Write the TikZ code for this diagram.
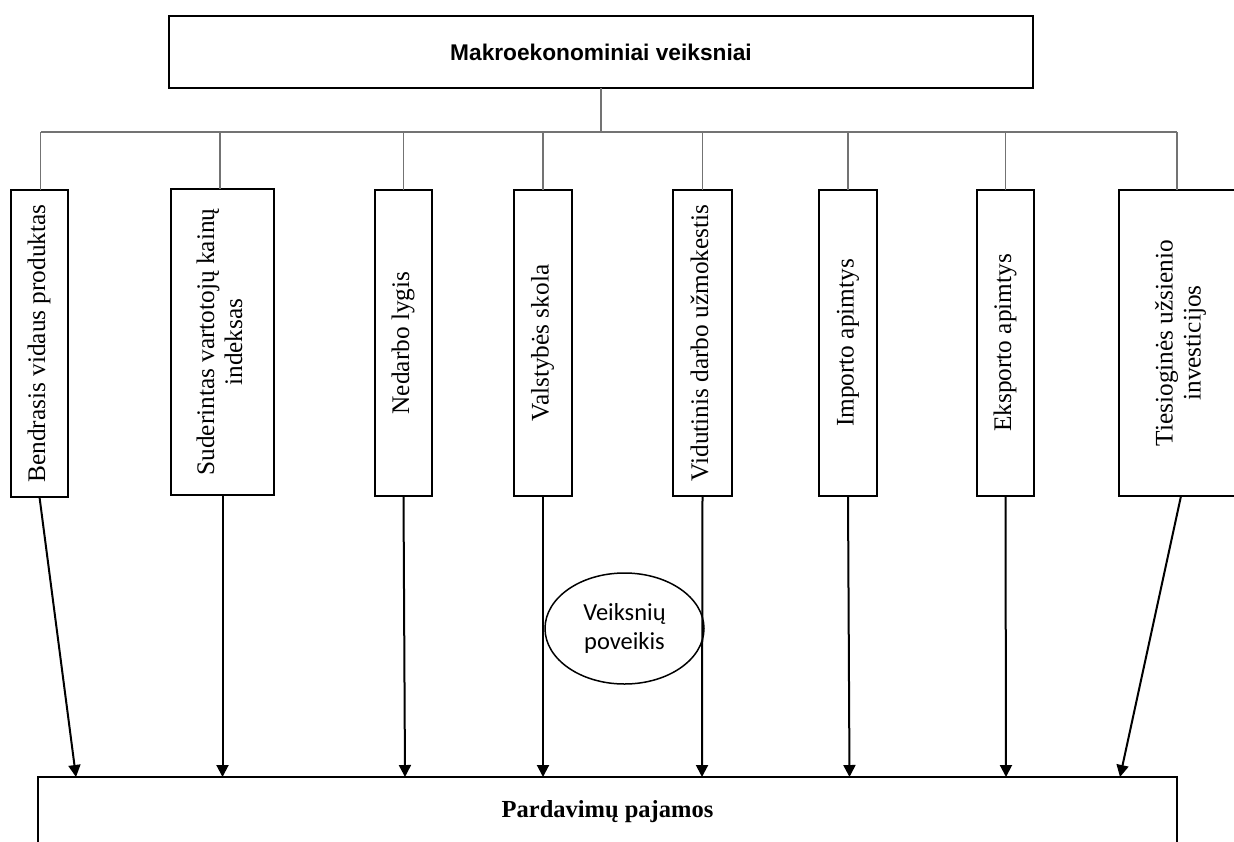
\documentclass[tikz,border=0pt]{standalone}
\usepackage{fontspec}
\setmainfont{Liberation Serif}
\newfontfamily\arialf{Liberation Sans}
\newfontfamily\calf{Carlito}
\usetikzlibrary{arrows.meta,shapes.geometric,calc}
\newcommand{\vtext}[1]{\rotatebox{90}{\begin{tabular}{@{}c@{}}#1\end{tabular}}}
\begin{document}
\begin{tikzpicture}[x=1pt,y=-1pt,
  box/.style={draw,line width=2pt,inner sep=0pt,outer sep=0pt},
  vbox/.style={box,minimum height=306pt,font=\fontsize{25.3}{28}\selectfont},
  tree/.style={draw=black!55,line width=1.4pt},
  arr/.style={line width=2pt,-{Triangle[length=12pt,width=12pt]}},
  oval/.style={draw,ellipse,line width=1.5pt,inner sep=0pt,align=center}
]
\useasboundingbox (0,0) rectangle (1234,841);

% top box
\node[box,minimum width=864pt,minimum height=72pt,
      font=\arialf\bfseries\fontsize{22.7}{26}\selectfont] (top) at (601,52) {Makroekonominiai veiksniai};

% factor boxes
\node[vbox,minimum width=57pt,minimum height=307pt] (b1) at (39.5,343.5) {\vtext{Bendrasis vidaus produktas}};
\node[vbox,minimum width=103pt] (b2) at (222.5,342) {\vtext{Suderintas vartotojų kainų\\indeksas}};
\node[vbox,minimum width=57pt] (b3) at (403.5,343) {\vtext{Nedarbo lygis}};
\node[vbox,minimum width=58pt] (b4) at (543,343) {\vtext{Valstybės skola}};
\node[vbox,minimum width=59pt] (b5) at (702.5,343) {\vtext{Vidutinis darbo užmokestis}};
\node[vbox,minimum width=58pt] (b6) at (848,343) {\vtext{Importo apimtys}};
\node[vbox,minimum width=57pt] (b7) at (1005.5,343) {\vtext{Eksporto apimtys}};
\node[vbox,minimum width=124pt] (b8) at (1181,343) {\vtext{Tiesioginės užsienio\\investicijos}};

% bottom box
\node[box,minimum width=1139pt,minimum height=70pt,
      font=\bfseries\fontsize{24.5}{28}\selectfont] (bot) at (607.5,812) {Pardavimų pajamos};

% ellipse
\node[oval,minimum width=159pt,minimum height=111pt,
      font=\calf\fontsize{24.5}{29}\selectfont] (eff) at (624.5,628.5) {Veiksnių\\poveikis};

% tree connectors
\coordinate (bus) at (601,132);
\coordinate (d1) at ($(b1.north)+(1,0)$);
\coordinate (d2) at ($(b2.north)+(-2.5,0)$);
\coordinate (d8) at ($(b8.north)+(-4,0)$);
\draw[tree] (top.south) -- (top.south |- bus);
\draw[tree] (d1 |- bus) -- (d8 |- bus);
\draw[tree] (d1 |- bus) -- (d1);
\draw[tree] (d2 |- bus) -- (d2);
\foreach \i in {3,...,7} {\draw[tree] (b\i.north |- bus) -- (b\i.north);}
\draw[tree] (d8 |- bus) -- (d8);

% arrow targets on the bottom box
\coordinate (t1) at (76,0 |- bot.north);
\coordinate (t2) at (222.5,0 |- bot.north);
\coordinate (t3) at (405,0 |- bot.north);
\coordinate (t4) at (543,0 |- bot.north);
\coordinate (t5) at (702,0 |- bot.north);
\coordinate (t6) at (849.5,0 |- bot.north);
\coordinate (t7) at (1006,0 |- bot.north);
\coordinate (t8) at (1120,0 |- bot.north);

\foreach \i in {1,...,8} {\draw[arr] (b\i.south) -- (t\i);}
\end{tikzpicture}
\end{document}
